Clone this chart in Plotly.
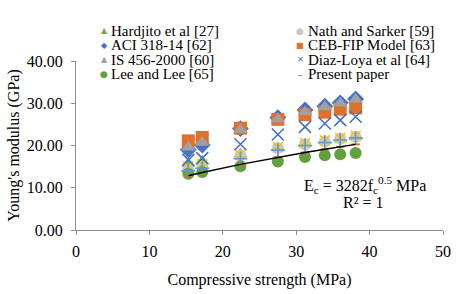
import plotly.graph_objects as go

# ---- data ----
fc = [15.3, 17.2, 22.4, 27.5, 31.2, 33.9, 36.0, 38.1]  # compressive strength (MPa)
hardjito = [15.7, 16.3, 18.0, 19.5, 20.4, 21.1, 21.6, 22.0]
nath = [14.3, 15.0, 17.6, 19.4, 20.3, 20.9, 21.6, 22.0]
aci = [19.0, 20.1, 24.0, 26.6, 28.4, 29.3, 30.1, 31.0]
ceb = [21.1, 21.9, 24.1, 26.2, 27.3, 27.9, 28.6, 28.9]
is456 = [19.6, 20.7, 23.7, 26.2, 27.9, 29.1, 30.0, 30.9]
diaz = [16.6, 17.0, 20.3, 22.6, 24.4, 25.2, 26.0, 26.8]
lee = [13.3, 13.7, 15.1, 16.2, 17.3, 17.7, 17.9, 18.2]
present = [12.84, 13.61, 15.53, 17.21, 18.33, 19.11, 19.69, 20.26]
extra_yellow = [15.0, 15.6, 17.8, 19.6, 20.6, 21.2, 21.8, 22.3]
extra_lightblue = [14.0, 14.6, 16.9, 18.9, 20.0, 20.7, 21.3, 21.8]

x_ticks = [0, 10, 20, 30, 40, 50]
y_ticks = [0, 10, 20, 30, 40]

legend_left = ["Hardjito et al [27]", "ACI 318-14 [62]", "IS 456-2000 [60]", "Lee and Lee [65]"]
legend_right = ["Nath and Sarker [59]", "CEB-FIP Model [63]", "Diaz-Loya et al [64]", "Present paper"]

GREEN = "#70AD47"
LGREY = "#C8C8C8"
GREY = "#A0A0A0"
BLUE = "#4472C4"
ORANGE = "#E0702D"
YELLOW = "#FFC000"
LBLUE = "#5B9BD5"
SERIF = "Times New Roman, Liberation Serif, serif"

W, H = 462, 294
ML, MR, MT, MB = 75.7, 19.3, 60.7, 63.7

fig = go.Figure()

def add(y, symbol, color, size, line=None):
    m = dict(symbol=symbol, color=color, size=size)
    m["line"] = line if line is not None else dict(width=0)
    fig.add_trace(go.Scatter(x=fc, y=y, mode="markers", marker=m, showlegend=False,
                             hoverinfo="skip"))

add(hardjito, "triangle-up", GREEN, 12)
add(nath, "circle", LGREY, 12)
add(extra_yellow, "x-thin", YELLOW, 10, dict(width=1.6, color=YELLOW))
add(aci, "diamond", BLUE, 13)
add(ceb, "square", ORANGE, 13)
add(is456, "triangle-up", GREY, 13)
add(diaz, "x-thin", BLUE, 12, dict(width=1.6, color=BLUE))
add(lee, "circle", "#62A13D", 12)
add(extra_lightblue, "cross-thin", LBLUE, 10, dict(width=1.6, color=LBLUE))
add(present, "line-ew", ORANGE, 6, dict(width=2, color=ORANGE))

# trend line through the present paper values
fig.add_trace(go.Scatter(x=fc, y=present, mode="lines", line=dict(color="black", width=1.4),
                         showlegend=False, hoverinfo="skip"))

PW = W - ML - MR
PH = H - MT - MB

def px_to_paper(px, py):
    return (px - ML) / PW, (H - MB - py) / PH

annotations = []
sym_left = [("▲", GREEN, 8), ("◆", BLUE, 8), ("▲", GREY, 8), ("●", "#62A13D", 9)]
sym_right = [("●", LGREY, 9), ("■", ORANGE, 8), ("✕", BLUE, 8), ("-", ORANGE, 13)]
rows = [30.5, 45.0, 59.5, 74.0]
for i, r in enumerate(rows):
    for (labels, syms, sx, tx) in ((legend_left, sym_left, 103.7, 108.5),
                                   (legend_right, sym_right, 300.0, 306.0)):
        s, c, fs = syms[i]
        xs, ys = px_to_paper(sx, r)
        annotations.append(dict(x=xs, y=ys, xref="paper", yref="paper", text=s,
                                showarrow=False, xanchor="center", yanchor="middle",
                                font=dict(color=c, size=fs, family="DejaVu Sans")))
        xt, yt = px_to_paper(tx, r)
        annotations.append(dict(x=xt, y=yt, xref="paper", yref="paper", text=labels[i],
                                showarrow=False, xanchor="left", yanchor="middle",
                                font=dict(color="black", size=15, family=SERIF)))

xe, ye = px_to_paper(364.5, 185)
annotations.append(dict(x=xe, y=ye, xref="paper", yref="paper",
                        text="E<sub>c</sub> = 3282f<sub>c</sub><sup>0.5</sup> MPa",
                        showarrow=False, xanchor="center", yanchor="middle",
                        font=dict(color="black", size=16, family=SERIF)))
xr, yr = px_to_paper(363, 203)
annotations.append(dict(x=xr, y=yr, xref="paper", yref="paper", text="R² = 1",
                        showarrow=False, xanchor="center", yanchor="middle",
                        font=dict(color="black", size=16, family=SERIF)))

axis_common = dict(showgrid=False, zeroline=False, showline=True, linecolor="#8C8C8C",
                   linewidth=1, ticks="outside", ticklen=4, tickcolor="#8C8C8C",
                   tickfont=dict(size=16, color="black", family=SERIF))

fig.update_layout(
    width=W, height=H,
    margin=dict(l=ML, r=MR, t=MT, b=MB, autoexpand=False),
    paper_bgcolor="white", plot_bgcolor="white",
    showlegend=False,
    font=dict(family=SERIF, color="black"),
    xaxis=dict(range=[0, 50], tickvals=x_ticks, ticktext=[str(v) for v in x_ticks],
               ticklabelstandoff=3,
               title=dict(text="Compressive strength (MPa)", standoff=14,
                          font=dict(size=16, family=SERIF, color="black")),
               automargin=False, **axis_common),
    yaxis=dict(range=[0, 40], tickvals=y_ticks, ticktext=[f"{v:.2f}" for v in y_ticks],
               ticklabelstandoff=5,
               title=dict(text="Young's modulus (GPa)", standoff=3,
                          font=dict(size=16, family=SERIF, color="black")),
               automargin=False, **axis_common),
    annotations=annotations,
)

fig.write_html("out.html", config={"displayModeBar": False},
               post_script="document.body.style.margin='0';document.body.style.overflow='hidden';")
